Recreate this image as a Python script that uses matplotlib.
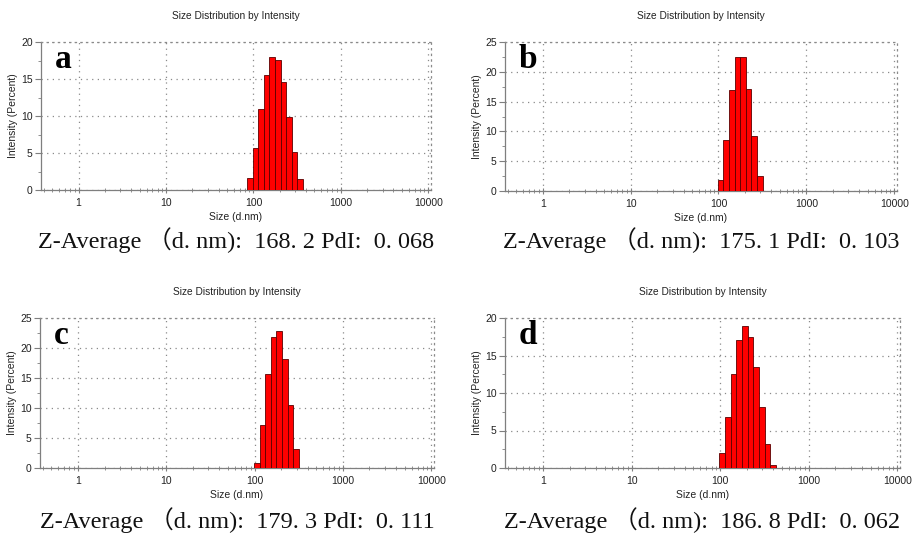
import matplotlib
matplotlib.use("Agg")
import matplotlib.pyplot as plt
import matplotlib.ticker as mticker
import numpy as np

# Malvern size classes are log spaced, ratio between neighbouring bins
bin_ratio = 1.158

size_a = [91.28, 105.7, 122.4, 141.8, 164.2, 190.1, 220.2, 255.0, 295.3, 342.0]
int_a = [1.6, 5.7, 10.9, 15.5, 18.0, 17.6, 14.6, 9.9, 5.1, 1.5]

size_b = [105.7, 122.4, 141.8, 164.2, 190.1, 220.2, 255.0, 295.3]
int_b = [1.8, 8.5, 16.9, 22.4, 22.4, 17.1, 9.2, 2.6]

size_c = [105.7, 122.4, 141.8, 164.2, 190.1, 220.2, 255.0, 295.3]
int_c = [0.9, 7.1, 15.6, 21.9, 22.9, 18.2, 10.5, 3.2]

size_d = [105.7, 122.4, 141.8, 164.2, 190.1, 220.2, 255.0, 295.3, 342.0, 396.1]
int_d = [2.0, 6.8, 12.5, 17.1, 18.9, 17.5, 13.5, 8.2, 3.2, 0.45]

letters = ['a', 'b', 'c', 'd']
y_max = [20, 25, 25, 20]
z_avg = ['168. 2', '175. 1', '179. 3', '186. 8']
pdi = ['0. 068', '0. 103', '0. 111', '0. 062']

W, H = 915, 533
# axes boxes in pixels: left, top, right, bottom
boxes = [(41, 42, 431, 190), (505, 42, 897, 191), (40, 318, 434, 468), (505, 318, 900, 468)]
caption_y = [240, 240, 520, 520]

plt.rcParams['font.family'] = ['Liberation Sans', 'DejaVu Sans']
fig = plt.figure(figsize=(W / 100, H / 100), dpi=100)

panels = [(size_a, int_a), (size_b, int_b), (size_c, int_c), (size_d, int_d)]
grid_col = '#8a8a8a'
dots = (0, (1, 3.5))
half = np.sqrt(bin_ratio)

for i, (sizes, vals) in enumerate(panels):
    l, t, r, b = boxes[i]
    ax = fig.add_axes([l / W, 1 - b / H, (r - l) / W, (b - t) / H])
    s = np.array(sizes)
    ax.bar(s / half, vals, width=s * half - s / half, align='edge',
           color='#ff0000', edgecolor='#5a0000', linewidth=0.6, zorder=3)
    ax.set_xscale('log')
    ax.set_xlim(0.4 / half, 10000 * half)
    ax.set_ylim(0, y_max[i])
    ax.xaxis.set_major_locator(mticker.FixedLocator([1, 10, 100, 1000, 10000]))
    ax.xaxis.set_major_formatter(mticker.FixedFormatter(['1', '10', '100', '1000', '10000']))
    ax.xaxis.set_minor_locator(mticker.LogLocator(base=10, subs=np.arange(2, 10)))
    ax.xaxis.set_minor_formatter(mticker.NullFormatter())
    ax.yaxis.set_major_locator(mticker.MultipleLocator(5))
    ax.yaxis.set_minor_locator(mticker.MultipleLocator(2.5))
    ax.grid(True, which='major', color=grid_col, linestyle=dots, linewidth=0.9, zorder=0)
    for side in ['left', 'bottom']:
        ax.spines[side].set_color('#7f7f7f')
        ax.spines[side].set_linewidth(0.9)
    for side in ['top', 'right']:
        ax.spines[side].set_color(grid_col)
        ax.spines[side].set_linestyle(dots)
        ax.spines[side].set_linewidth(0.9)
    ax.tick_params(axis='both', which='both', colors='#7f7f7f', labelcolor='#222222', labelsize=7.5)
    ax.tick_params(axis='x', which='major', direction='inout', length=5, pad=3)
    ax.tick_params(axis='x', which='minor', direction='inout', length=3)
    ax.tick_params(axis='y', which='major', direction='out', length=4, pad=2)
    ax.tick_params(axis='y', which='minor', direction='out', length=2.5)
    ax.set_title('Size Distribution by Intensity', fontsize=7.3, pad=16.5, color='#222222')
    ax.set_xlabel('Size (d.nm)', fontsize=7.5, labelpad=3, color='#222222')
    ax.set_ylabel('Intensity (Percent)', fontsize=7.5, labelpad=2, color='#222222')
    ax.text(0.035, 0.985, letters[i], transform=ax.transAxes, ha='left', va='top',
            fontsize=24, fontweight='bold', family=['Liberation Serif', 'DejaVu Serif'])
    caption = 'Z-Average （d. nm):  ' + z_avg[i] + ' PdI:  ' + pdi[i]
    fig.text((l + r) / 2 / W, 1 - caption_y[i] / H, caption, ha='center', va='center',
             fontsize=17.5, family=['Liberation Serif', 'Noto Sans CJK SC'], color='#111111')

fig.savefig('out.png', dpi=100)
